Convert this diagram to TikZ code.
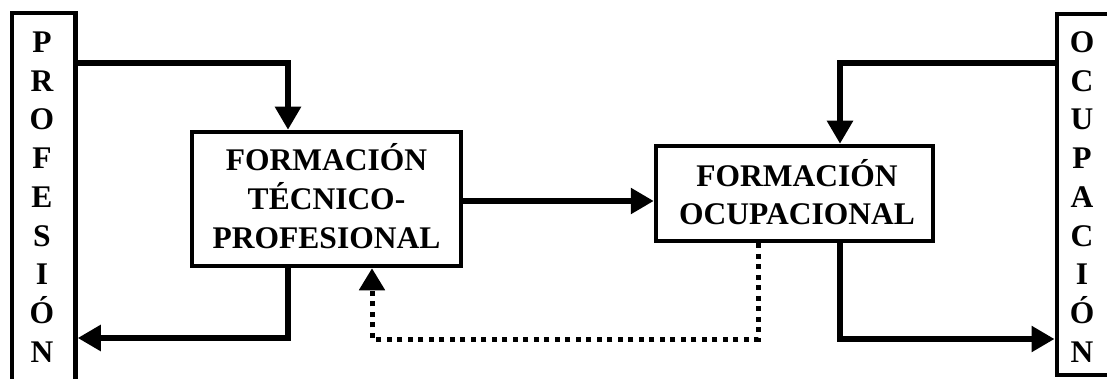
\documentclass[tikz,border=0pt]{standalone}
\usepackage{fontspec}
\setmainfont{Liberation Serif}
\usetikzlibrary{arrows.meta}
\begin{document}
\begin{tikzpicture}[x=1pt,y=-1pt,
  tall/.style={draw,line width=4.5pt,minimum width=63.5pt,inner sep=0pt},
  box/.style={draw,line width=4.5pt,inner sep=0pt},
  lbl/.style={font=\fontsize{31.5}{38.75}\selectfont\bfseries,align=center,inner sep=0pt},
  arr/.style={line width=5.5pt,-{Triangle[length=23pt,width=25pt]}},
  dotarr/.style={line width=5pt,dash pattern=on 5pt off 5.5pt,-{Triangle[length=22pt,width=25pt]}}]
\useasboundingbox (0,0) rectangle (1107,379);
% side boxes
\node[tall,minimum height=372pt] (prof) at (43.75,199) {};
\node[tall,minimum height=361pt] (occ) at (1088.5,194.5) {};
\node[lbl] (proftxt) at (42,197) {P\\R\\O\\F\\E\\S\\I\\Ó\\N};
\node[lbl] (occtxt) at (1082,197) {O\\C\\U\\P\\A\\C\\I\\Ó\\N};
% middle boxes
\node[box,minimum width=269pt,minimum height=134pt] (ftp) at (326.5,199) {};
\node[box,minimum width=277pt,minimum height=95pt] (fo) at (794.5,193.5) {};
\node[lbl,anchor=base] (ftptxt) at (326.5,248) {FORMACIÓN\\TÉCNICO-\\PROFESIONAL};
\node[lbl,anchor=base] (fotxt) at (797,225) {FORMACIÓN\\OCUPACIONAL};
% connectors
\draw[arr] (prof.east |- 0,63) -| ([xshift=-38.5pt]ftp.north);
\draw[arr] ([xshift=-38.5pt]ftp.south) |- (prof.east |- 0,338);
\draw[arr] (ftp.east |- 0,201) -- (fo.west |- 0,201);
\draw[arr] (occ.west |- 0,63) -| ([xshift=45.5pt]fo.north);
\draw[arr] ([xshift=45.5pt]fo.south) |- (occ.west |- 0,339);
\coordinate (dc1) at ([xshift=-36.5pt]fo.south |- 0,339);
\draw[dotarr] ([xshift=-36.5pt]fo.south) -- (dc1) -| ([xshift=45.5pt]ftp.south);
\end{tikzpicture}
\end{document}
